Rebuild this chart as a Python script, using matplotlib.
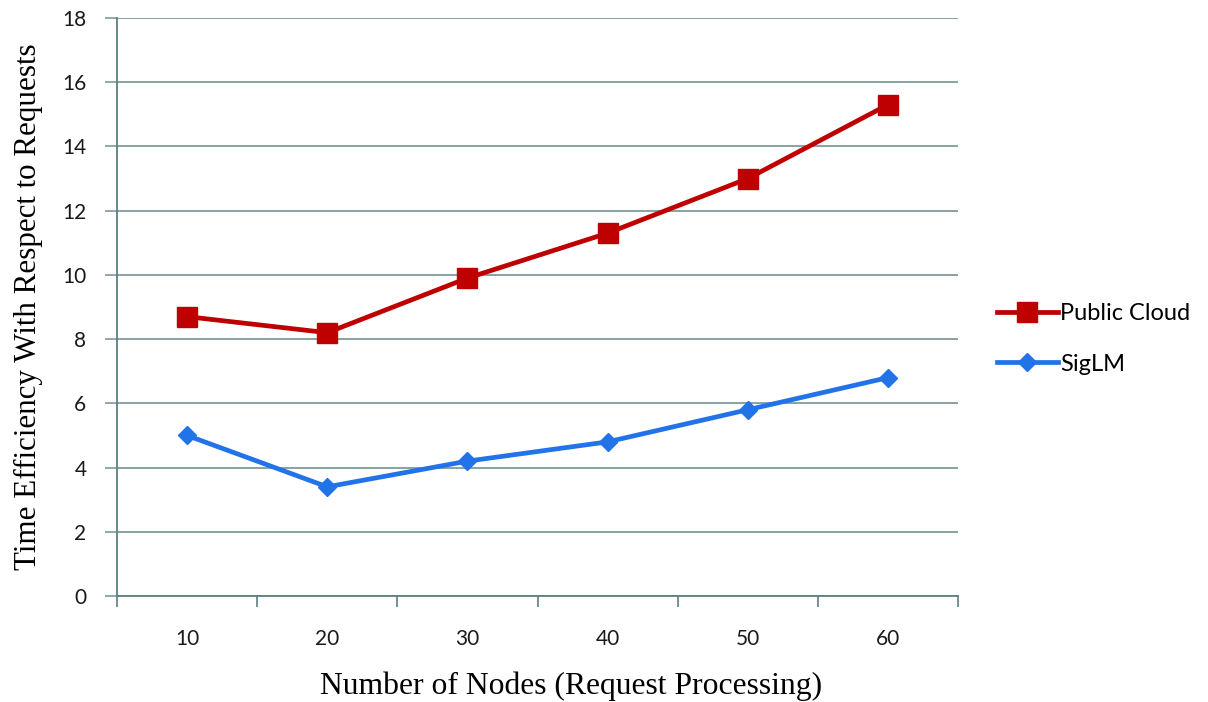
import matplotlib
matplotlib.use("Agg")
import matplotlib.pyplot as plt

categories = ["10", "20", "30", "40", "50", "60"]
public_cloud = [8.7, 8.2, 9.9, 11.3, 13.0, 15.3]
siglm = [5.0, 3.4, 4.2, 4.8, 5.8, 6.8]
yticks = [0, 2, 4, 6, 8, 10, 12, 14, 16, 18]

grid_c = "#7f9b9d"
axis_c = "#5d7f86"

fig = plt.figure(figsize=(12.08, 7.02), dpi=100)
ax = fig.add_axes([117/1208, 1-596/702, (958-117)/1208, (596-18)/702])

x = list(range(len(categories)))
ax.plot(x, public_cloud, color="#BF0000", lw=3.4, marker="s", ms=14,
        label="Public Cloud", zorder=3)
ax.plot(x, siglm, color="#2272E8", lw=3.4, marker="D", ms=9,
        label="SigLM", zorder=3)

ax.set_xlim(-0.5, len(categories) - 0.5)
ax.set_ylim(0, 18)
ax.set_yticks(yticks)
ax.set_yticklabels([str(v) for v in yticks])
ax.set_xticks(x)
ax.set_xticklabels(categories)
ax.set_xticks([i - 0.5 for i in range(len(categories) + 1)], minor=True)
ax.tick_params(axis="x", which="major", length=0, pad=24)
ax.tick_params(axis="x", which="minor", length=8, color=axis_c, width=1.2)
ax.tick_params(axis="y", length=9, color=grid_c, width=1.2, pad=13)
for lab in ax.get_xticklabels() + ax.get_yticklabels():
    lab.set_fontfamily("Lato")
    lab.set_fontsize(15)
    lab.set_color("#1a1a1a")

ax.yaxis.grid(True, color=grid_c, lw=1.3)
ax.set_axisbelow(True)
for s in ["top", "right"]:
    ax.spines[s].set_visible(False)
ax.spines["left"].set_color(axis_c)
ax.spines["bottom"].set_color(axis_c)
ax.spines["left"].set_linewidth(1.3)
ax.spines["bottom"].set_linewidth(1.3)

ax.set_xlabel("Number of Nodes (Request Processing)", fontfamily="Liberation Serif",
              fontsize=22.8, va="center")
ax.xaxis.set_label_coords((571 - 117) / 841, (596 - 686) / 578)
ax.set_ylabel("Time Efficiency With Respect to Requests", fontfamily="Liberation Serif",
              fontsize=22.3, labelpad=14)

leg = ax.legend(loc="center left", bbox_to_anchor=(1.046, 0.445), frameon=False,
                prop={"family": "Lato", "size": 17}, handlelength=2.6,
                labelspacing=1.25, handletextpad=0.1, borderpad=0, borderaxespad=0)

fig.savefig("out.png", dpi=100)
